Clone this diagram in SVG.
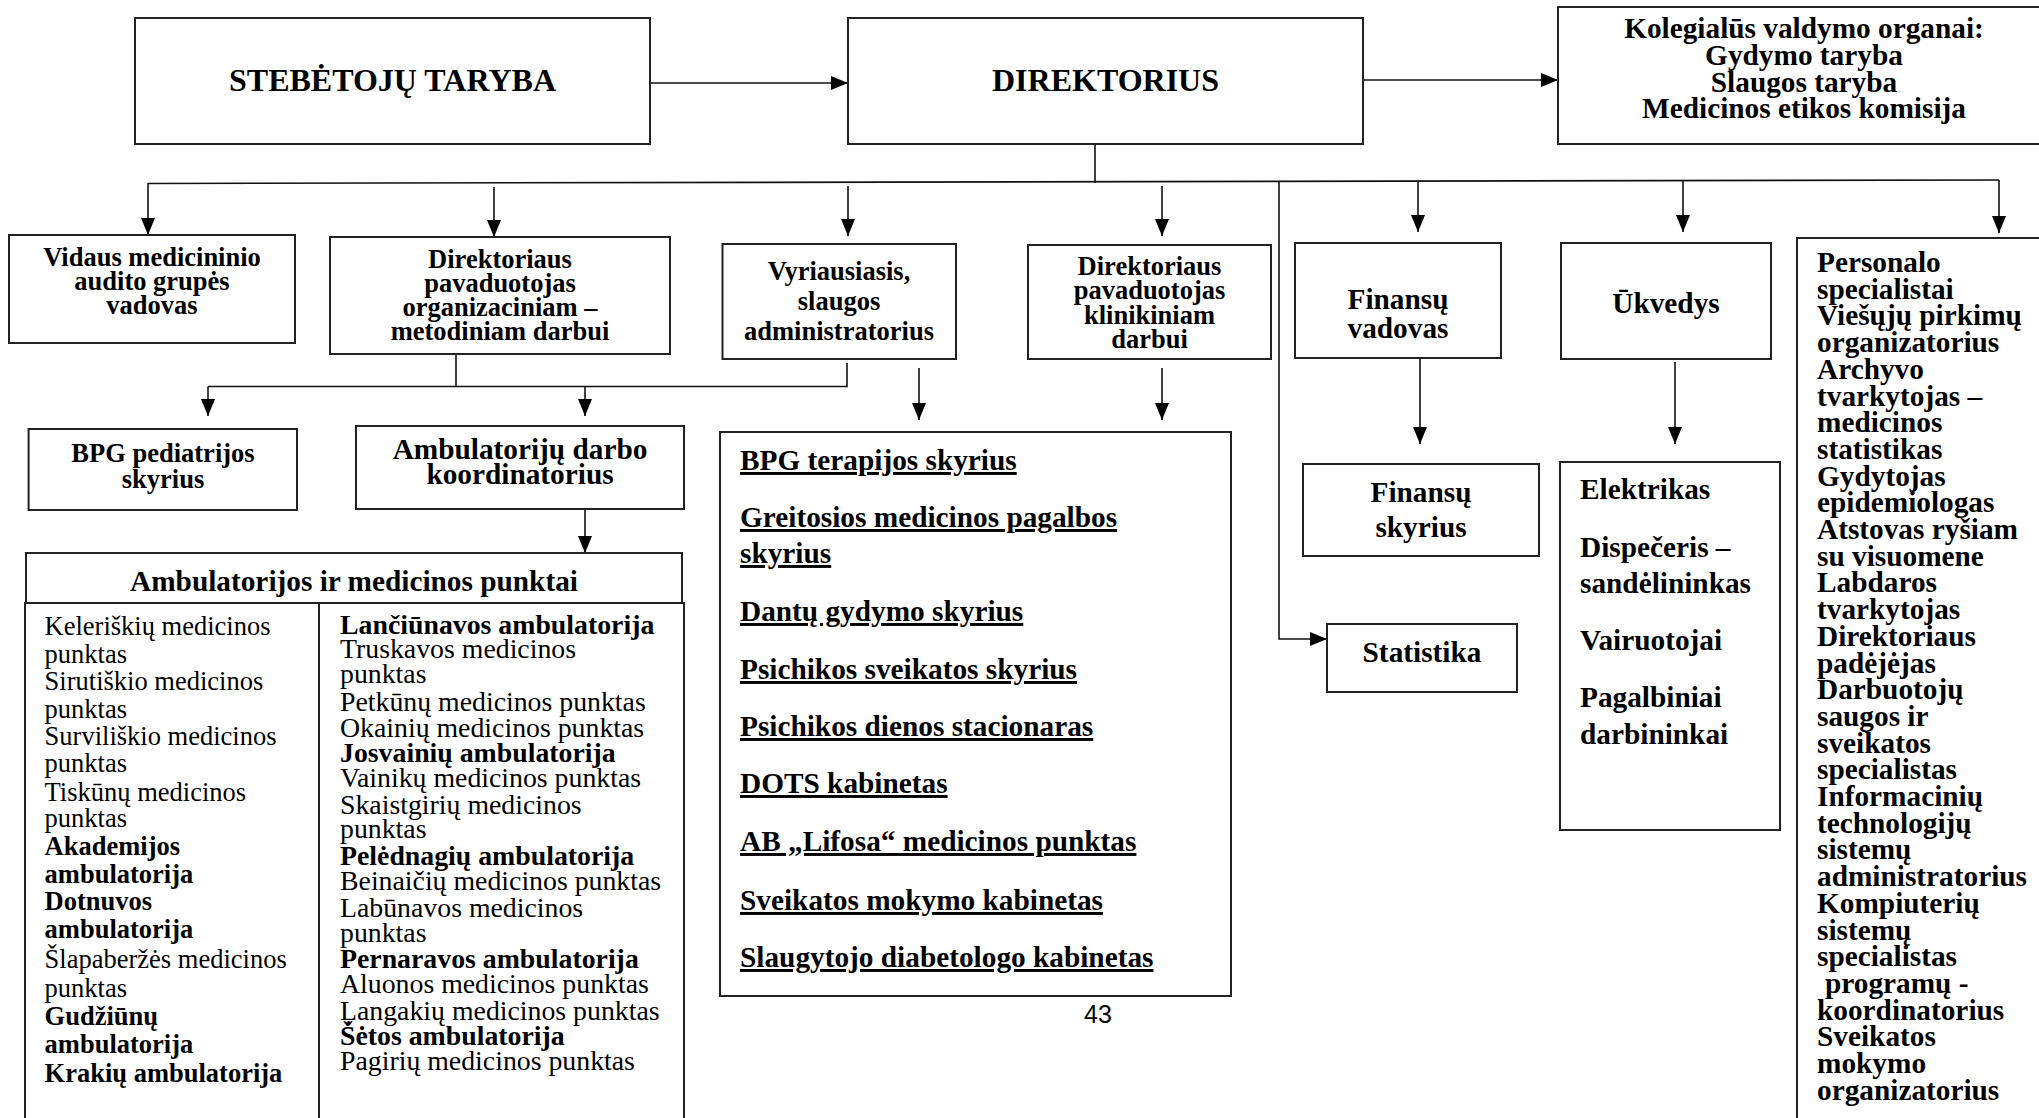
<svg xmlns="http://www.w3.org/2000/svg" width="2039" height="1118" viewBox="0 0 2039 1118">
<style>
.box{fill:#fff;stroke:#222;stroke-width:2}
.ln{stroke:#111;stroke-width:1.6;fill:none}
.b{font-family:"Liberation Serif","Times New Roman",serif;font-weight:bold;fill:#000}
.r{font-family:"Liberation Serif","Times New Roman",serif;font-weight:normal;fill:#000}
.c{text-anchor:middle}
.u{text-decoration:underline}
.s32{font-size:32px}
.s29{font-size:29.3px}
.s28{font-size:27.8px}
.s26{font-size:26.5px}
</style>
<defs>
<marker id="ah" markerUnits="userSpaceOnUse" markerWidth="17" markerHeight="14" refX="17" refY="7" orient="auto">
<path d="M0,0 L17,7 L0,14 Z" fill="#000"/>
</marker>
</defs>
<rect width="2039" height="1118" fill="#fff"/>

<g id="connectors">
<line class="ln" x1="650" y1="83" x2="848" y2="83" marker-end="url(#ah)"/>
<line class="ln" x1="1363" y1="80" x2="1558" y2="80" marker-end="url(#ah)"/>
<line class="ln" x1="1095" y1="144" x2="1095" y2="183"/>
<polyline class="ln" points="148,183.5 1999,180"/>
<line class="ln" x1="148" y1="183" x2="148" y2="235" marker-end="url(#ah)"/>
<line class="ln" x1="494" y1="187" x2="494" y2="237" marker-end="url(#ah)"/>
<line class="ln" x1="848" y1="186" x2="848" y2="236" marker-end="url(#ah)"/>
<line class="ln" x1="1162" y1="186" x2="1162" y2="236" marker-end="url(#ah)"/>
<polyline class="ln" points="1279,182 1279,639 1327,639" marker-end="url(#ah)"/>
<line class="ln" x1="1418" y1="182" x2="1418" y2="232" marker-end="url(#ah)"/>
<line class="ln" x1="1683" y1="181" x2="1683" y2="232" marker-end="url(#ah)"/>
<line class="ln" x1="1999" y1="180" x2="1999" y2="233" marker-end="url(#ah)"/>
<line class="ln" x1="456" y1="354" x2="456" y2="387"/>
<polyline class="ln" points="847,363 847,386.5 208,386.5"/>
<line class="ln" x1="208" y1="386.5" x2="208" y2="416" marker-end="url(#ah)"/>
<line class="ln" x1="585" y1="386.5" x2="585" y2="416" marker-end="url(#ah)"/>
<line class="ln" x1="919" y1="368" x2="919" y2="420" marker-end="url(#ah)"/>
<line class="ln" x1="1162" y1="368" x2="1162" y2="420" marker-end="url(#ah)"/>
<line class="ln" x1="585" y1="509" x2="585" y2="553" marker-end="url(#ah)"/>
<line class="ln" x1="1420" y1="358" x2="1420" y2="444" marker-end="url(#ah)"/>
<line class="ln" x1="1675" y1="362" x2="1675" y2="444" marker-end="url(#ah)"/>
</g>

<g id="stebetoju-taryba">
<rect class="box" x="135" y="18" width="515" height="126"/>
<text class="b c s32" x="392.5" y="91">STEBĖTOJŲ TARYBA</text>
</g>

<g id="direktorius">
<rect class="box" x="848" y="18" width="515" height="126"/>
<text class="b c s32" x="1105.5" y="91">DIREKTORIUS</text>
</g>

<g id="kolegialus">
<rect class="box" x="1558" y="7" width="500" height="137"/>
<text class="b c s29" x="1804" y="38">Kolegialūs valdymo organai:</text>
<text class="b c s29" x="1804" y="65">Gydymo taryba</text>
<text class="b c s29" x="1804" y="91.5">Slaugos taryba</text>
<text class="b c s29" x="1804" y="118">Medicinos etikos komisija</text>
</g>

<g id="vidaus-audito">
<rect class="box" x="9" y="235" width="286" height="108"/>
<text class="b c s26" x="152" y="266">Vidaus medicininio</text>
<text class="b c s26" x="152" y="290">audito grupės</text>
<text class="b c s26" x="152" y="314">vadovas</text>
</g>

<g id="dir-pav-org">
<rect class="box" x="330" y="237" width="340" height="117"/>
<text class="b c s26" x="500" y="268">Direktoriaus</text>
<text class="b c s26" x="500" y="292">pavaduotojas</text>
<text class="b c s26" x="500" y="316">organizaciniam –</text>
<text class="b c s26" x="500" y="340">metodiniam darbui</text>
</g>

<g id="vyriausiasis">
<rect class="box" x="722.5" y="244" width="233.5" height="115"/>
<text class="b c s26" x="839" y="280">Vyriausiasis,</text>
<text class="b c s26" x="839" y="310">slaugos</text>
<text class="b c s26" x="839" y="340">administratorius</text>
</g>

<g id="dir-pav-klin">
<rect class="box" x="1028" y="245" width="243" height="114"/>
<text class="b c s26" x="1149.5" y="275">Direktoriaus</text>
<text class="b c s26" x="1149.5" y="299">pavaduotojas</text>
<text class="b c s26" x="1149.5" y="323.5">klinikiniam</text>
<text class="b c s26" x="1149.5" y="348">darbui</text>
</g>

<g id="finansu-vadovas">
<rect class="box" x="1295" y="243" width="206" height="115"/>
<text class="b c s29" x="1398" y="309">Finansų</text>
<text class="b c s29" x="1398" y="338">vadovas</text>
</g>

<g id="ukvedys">
<rect class="box" x="1561" y="243" width="210" height="116"/>
<text class="b c s29" x="1666" y="313">Ūkvedys</text>
</g>

<g id="personalas">
<rect class="box" x="1797" y="238" width="260" height="900"/>
<text class="b s29" x="1817" y="272">Personalo</text>
<text class="b s29" x="1817" y="298.7">specialistai</text>
<text class="b s29" x="1817" y="325.4">Viešųjų pirkimų</text>
<text class="b s29" x="1817" y="352.1">organizatorius</text>
<text class="b s29" x="1817" y="378.8">Archyvo</text>
<text class="b s29" x="1817" y="405.5">tvarkytojas –</text>
<text class="b s29" x="1817" y="432.2">medicinos</text>
<text class="b s29" x="1817" y="458.9">statistikas</text>
<text class="b s29" x="1817" y="485.6">Gydytojas</text>
<text class="b s29" x="1817" y="512.3">epidemiologas</text>
<text class="b s29" x="1817" y="539">Atstovas ryšiam</text>
<text class="b s29" x="1817" y="565.7">su visuomene</text>
<text class="b s29" x="1817" y="592.4">Labdaros</text>
<text class="b s29" x="1817" y="619.1">tvarkytojas</text>
<text class="b s29" x="1817" y="645.8">Direktoriaus</text>
<text class="b s29" x="1817" y="672.5">padėjėjas</text>
<text class="b s29" x="1817" y="699.2">Darbuotojų</text>
<text class="b s29" x="1817" y="725.9">saugos ir</text>
<text class="b s29" x="1817" y="752.6">sveikatos</text>
<text class="b s29" x="1817" y="779.3">specialistas</text>
<text class="b s29" x="1817" y="806">Informacinių</text>
<text class="b s29" x="1817" y="832.7">technologijų</text>
<text class="b s29" x="1817" y="859.4">sistemų</text>
<text class="b s29" x="1817" y="886.1">administratorius</text>
<text class="b s29" x="1817" y="912.8">Kompiuterių</text>
<text class="b s29" x="1817" y="939.5">sistemų</text>
<text class="b s29" x="1817" y="966.2">specialistas</text>
<text class="b s29" x="1825" y="992.9">programų -</text>
<text class="b s29" x="1817" y="1019.6">koordinatorius</text>
<text class="b s29" x="1817" y="1046.3">Sveikatos</text>
<text class="b s29" x="1817" y="1073">mokymo</text>
<text class="b s29" x="1817" y="1099.7">organizatorius</text>
</g>

<g id="bpg-pediatrijos">
<rect class="box" x="28.6" y="429" width="268.4" height="81"/>
<text class="b c s26" x="163" y="462">BPG pediatrijos</text>
<text class="b c s26" x="163" y="488">skyrius</text>
</g>

<g id="ambulatoriju-koordinatorius">
<rect class="box" x="356" y="426" width="328" height="83"/>
<text class="b c s29" x="520" y="459">Ambulatorijų darbo</text>
<text class="b c s29" x="520" y="484">koordinatorius</text>
</g>

<g id="ambulatorijos-punktai">
<rect class="box" x="26" y="553" width="656" height="50"/>
<text class="b c s29" x="354" y="591">Ambulatorijos ir medicinos punktai</text>
<rect class="box" x="25" y="603" width="294" height="530"/>
<rect class="box" x="319" y="603" width="365" height="530"/>
<text class="r s26" x="44.6" y="635">Keleriškių medicinos</text>
<text class="r s26" x="44.6" y="663">punktas</text>
<text class="r s26" x="44.6" y="690">Sirutiškio medicinos</text>
<text class="r s26" x="44.6" y="718">punktas</text>
<text class="r s26" x="44.6" y="745">Surviliškio medicinos</text>
<text class="r s26" x="44.6" y="772">punktas</text>
<text class="r s26" x="44.6" y="801">Tiskūnų medicinos</text>
<text class="r s26" x="44.6" y="827">punktas</text>
<text class="b s26" x="44.6" y="855">Akademijos</text>
<text class="b s26" x="44.6" y="883">ambulatorija</text>
<text class="b s26" x="44.6" y="910">Dotnuvos</text>
<text class="b s26" x="44.6" y="938">ambulatorija</text>
<text class="r s26" x="44.6" y="968">Šlapaberžės medicinos</text>
<text class="r s26" x="44.6" y="997">punktas</text>
<text class="b s26" x="44.6" y="1025">Gudžiūnų</text>
<text class="b s26" x="44.6" y="1053">ambulatorija</text>
<text class="b s26" x="44.6" y="1082">Krakių ambulatorija</text>
<text class="b s28" x="340" y="634">Lančiūnavos ambulatorija</text>
<text class="r s28" x="340" y="658">Truskavos medicinos</text>
<text class="r s28" x="340" y="683">punktas</text>
<text class="r s28" x="340" y="711">Petkūnų medicinos punktas</text>
<text class="r s28" x="340" y="737">Okainių medicinos punktas</text>
<text class="b s28" x="340" y="762">Josvainių ambulatorija</text>
<text class="r s28" x="340" y="787">Vainikų medicinos punktas</text>
<text class="r s28" x="340" y="814">Skaistgirių medicinos</text>
<text class="r s28" x="340" y="838">punktas</text>
<text class="b s28" x="340" y="865">Pelėdnagių ambulatorija</text>
<text class="r s28" x="340" y="890">Beinaičių medicinos punktas</text>
<text class="r s28" x="340" y="917">Labūnavos medicinos</text>
<text class="r s28" x="340" y="942">punktas</text>
<text class="b s28" x="340" y="968">Pernaravos ambulatorija</text>
<text class="r s28" x="340" y="993">Aluonos medicinos punktas</text>
<text class="r s28" x="340" y="1020">Ļangakių medicinos punktas</text>
<text class="b s28" x="340" y="1045">Šėtos ambulatorija</text>
<text class="r s28" x="340" y="1070">Pagirių medicinos punktas</text>
</g>

<g id="skyriai">
<rect class="box" x="720" y="432" width="511" height="564"/>
<text class="b u s29" x="740" y="470">BPG terapijos skyrius</text>
<text class="b u s29" x="740" y="527">Greitosios medicinos pagalbos</text>
<text class="b u s29" x="740" y="563">skyrius</text>
<text class="b u s29" x="740" y="621">Dantų gydymo skyrius</text>
<text class="b u s29" x="740" y="679">Psichikos sveikatos skyrius</text>
<text class="b u s29" x="740" y="736">Psichikos dienos stacionaras</text>
<text class="b u s29" x="740" y="793">DOTS kabinetas</text>
<text class="b u s29" x="740" y="851">AB „Lifosa“ medicinos punktas</text>
<text class="b u s29" x="740" y="910">Sveikatos mokymo kabinetas</text>
<text class="b u s29" x="740" y="967">Slaugytojo diabetologo kabinetas</text>
</g>

<g id="finansu-skyrius">
<rect class="box" x="1303" y="464" width="236" height="92"/>
<text class="b c s29" x="1421" y="502">Finansų</text>
<text class="b c s29" x="1421" y="537">skyrius</text>
</g>

<g id="statistika">
<rect class="box" x="1327" y="624" width="190" height="68"/>
<text class="b c s29" x="1422" y="662">Statistika</text>
</g>

<g id="ukio-darbuotojai">
<rect class="box" x="1560" y="462" width="220" height="368"/>
<text class="b s29" x="1580" y="499">Elektrikas</text>
<text class="b s29" x="1580" y="557">Dispečeris –</text>
<text class="b s29" x="1580" y="593">sandėlininkas</text>
<text class="b s29" x="1580" y="650">Vairuotojai</text>
<text class="b s29" x="1580" y="707">Pagalbiniai</text>
<text class="b s29" x="1580" y="744">darbininkai</text>
</g>

<text x="1098" y="1023" text-anchor="middle" font-family="Liberation Sans, Arial, sans-serif" font-size="25">43</text>
</svg>
